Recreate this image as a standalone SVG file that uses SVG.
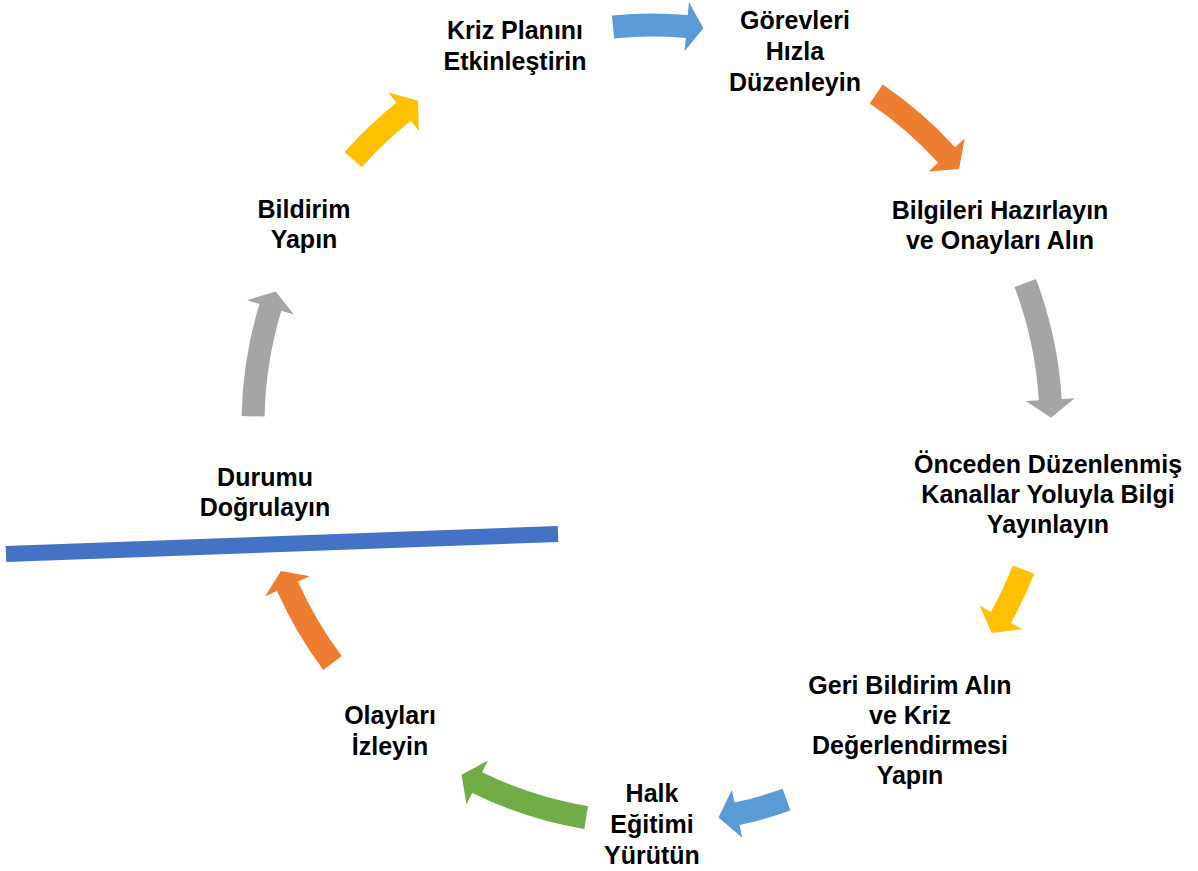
<svg xmlns="http://www.w3.org/2000/svg" width="1198" height="871" viewBox="0 0 1198 871">
<style>
.t{font-family:"Liberation Sans",Arial,sans-serif;font-weight:bold;font-size:25px;fill:#000;text-anchor:middle}
.blue{fill:#5B9BD5}.orange{fill:#ED7D31}.gray{fill:#A5A5A5}.yellow{fill:#FFC000}.green{fill:#70AD47}
</style>
<rect width="1198" height="871" fill="#fff"/>
<g id="connectors">
<path class="blue" d="M611.9,15.5 A410.5,410.5 0 0 1 687.8,15.1 L688.9,2.1 L703.4,28.3 L684.6,50.9 L685.8,38 A387.5,387.5 0 0 0 614.2,38.4 Z"/>
<path class="orange" d="M882.7,84.5 A410.5,410.5 0 0 1 955.1,147.2 L964.7,138.4 L959,169.1 L928.6,171.5 L938.2,162.7 A387.5,387.5 0 0 0 869.8,103.5 Z"/>
<path class="gray" d="M1036,278.9 A410.5,410.5 0 0 1 1061.7,398.9 L1074.7,398.2 L1051,417.7 L1025.8,401.1 L1038.8,400.3 A387.5,387.5 0 0 0 1014.5,287 Z"/>
<path class="yellow" d="M1034.2,573.8 A410.5,410.5 0 0 1 1011,623 L1022.4,629.3 L991.8,633.1 L979.6,605.6 L990.9,611.9 A387.5,387.5 0 0 0 1012.8,565.4 Z"/>
<path class="blue" d="M790.4,810.5 A410.5,410.5 0 0 1 739.5,825.1 L742.2,837.8 L718.5,817.4 L731.8,789.9 L734.6,802.6 A387.5,387.5 0 0 0 782.6,788.8 Z"/>
<path class="green" d="M584.3,828.9 A410.5,410.5 0 0 1 472.1,793 L466.4,804.6 L461.6,774.7 L487.8,760.6 L482.1,772.3 A387.5,387.5 0 0 0 588,806.2 Z"/>
<path class="orange" d="M323.3,669.9 A410.5,410.5 0 0 1 277,591 L265.1,596.3 L281,570.9 L309.9,576.3 L298,581.6 A387.5,387.5 0 0 0 341.7,656.1 Z"/>
<path class="gray" d="M241.6,416.1 A410.5,410.5 0 0 1 259.4,304 L247,300.2 L275.7,291.5 L293.9,314.5 L281.4,310.7 A387.5,387.5 0 0 0 264.6,416.6 Z"/>
<path class="yellow" d="M344.6,152 A410.5,410.5 0 0 1 396.5,102.7 L388.4,92.6 L418,100.8 L418.9,130.9 L410.8,120.7 A387.5,387.5 0 0 0 361.8,167.2 Z"/>
</g>
<g id="node1"><text class="t" x="515" y="39">Kriz Planını</text><text class="t" x="515" y="70">Etkinleştirin</text></g>
<g id="node2"><text class="t" x="795" y="29">Görevleri</text><text class="t" x="795" y="60">Hızla</text><text class="t" x="795" y="91">Düzenleyin</text></g>
<g id="node3"><text class="t" x="1000" y="219">Bilgileri Hazırlayın</text><text class="t" x="1000" y="249">ve Onayları Alın</text></g>
<g id="node4"><text class="t" x="1048" y="473">Önceden Düzenlenmiş</text><text class="t" x="1048" y="503">Kanallar Yoluyla Bilgi</text><text class="t" x="1048" y="533">Yayınlayın</text></g>
<g id="node5"><text class="t" x="910" y="694">Geri Bildirim Alın</text><text class="t" x="910" y="724">ve Kriz</text><text class="t" x="910" y="754">Değerlendirmesi</text><text class="t" x="910" y="784">Yapın</text></g>
<g id="node6"><text class="t" x="652" y="802">Halk</text><text class="t" x="652" y="833">Eğitimi</text><text class="t" x="652" y="864">Yürütün</text></g>
<g id="node7"><text class="t" x="390" y="724">Olayları</text><text class="t" x="390" y="755">İzleyin</text></g>
<g id="node8"><text class="t" x="265" y="486">Durumu</text><text class="t" x="265" y="516">Doğrulayın</text></g>
<g id="node9"><text class="t" x="304" y="218">Bildirim</text><text class="t" x="304" y="248">Yapın</text></g>
<line x1="6" y1="554" x2="558" y2="534" stroke="#4472C4" stroke-width="16"/>
</svg>
